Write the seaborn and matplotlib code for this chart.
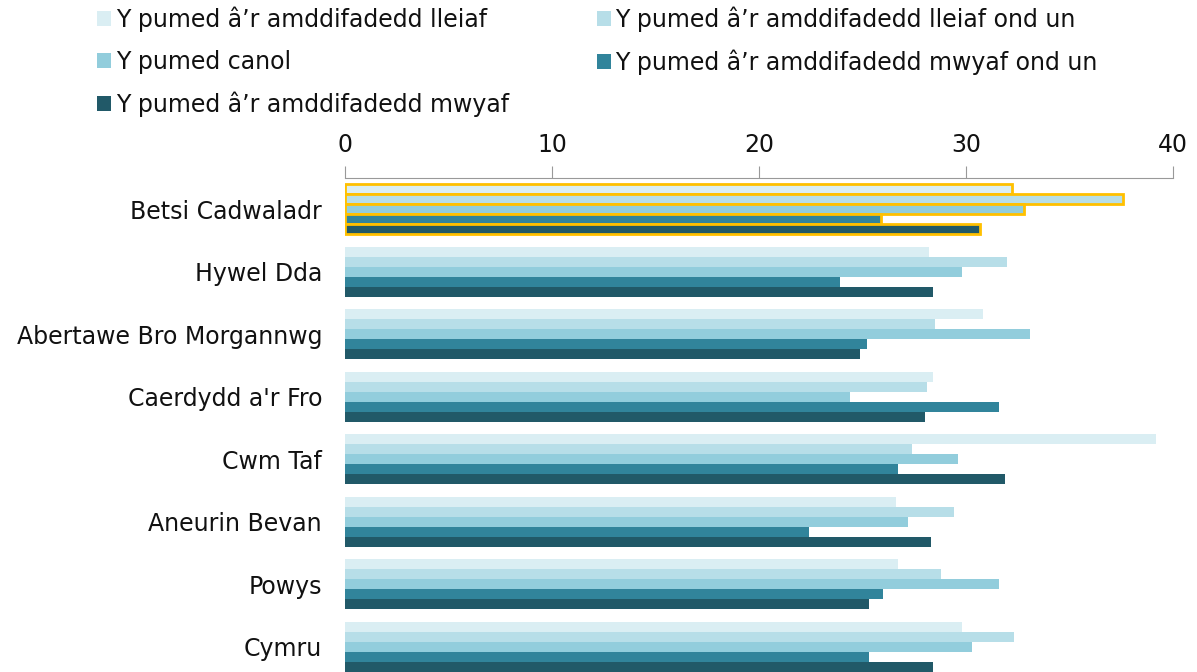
import matplotlib
matplotlib.use("Agg")
import matplotlib.pyplot as plt
import seaborn as sns
import pandas as pd
from matplotlib.patches import Patch

# Health boards (rows) and the five deprivation fifths (series)
boards = ["Betsi Cadwaladr", "Hywel Dda", "Abertawe Bro Morgannwg", "Caerdydd a'r Fro",
          "Cwm Taf", "Aneurin Bevan", "Powys", "Cymru"]
series = ["Y pumed â’r amddifadedd lleiaf", "Y pumed â’r amddifadedd lleiaf ond un",
          "Y pumed canol", "Y pumed â’r amddifadedd mwyaf ond un",
          "Y pumed â’r amddifadedd mwyaf"]
lleiaf = [32.2, 28.2, 30.8, 28.4, 39.2, 26.6, 26.7, 29.8]
lleiaf_ond_un = [37.6, 32.0, 28.5, 28.1, 27.4, 29.4, 28.8, 32.3]
canol = [32.8, 29.8, 33.1, 24.4, 29.6, 27.2, 31.6, 30.3]
mwyaf_ond_un = [25.9, 23.9, 25.2, 31.6, 26.7, 22.4, 26.0, 25.3]
mwyaf = [30.7, 28.4, 24.9, 28.0, 31.9, 28.3, 25.3, 28.4]
colours = ["#DAEEF3", "#B7DEE8", "#92CDDC", "#31849B", "#215968"]
xticks = [0, 10, 20, 30, 40]

values = [lleiaf, lleiaf_ond_un, canol, mwyaf_ond_un, mwyaf]
rows = []
for s, vals in zip(series, values):
    for b, v in zip(boards, vals):
        rows.append({"board": b, "series": s, "value": v})
df = pd.DataFrame(rows)

sns.set_style("white")
plt.rcParams["font.family"] = ["DejaVu Sans"]
txt = "#111111"

fig = plt.figure(figsize=(11.97, 6.72), dpi=100)
ax = fig.add_axes([345 / 1197, 0.0, (1173 - 345) / 1197, 1 - 178 / 672])

sns.barplot(data=df, y="board", x="value", hue="series", order=boards,
            hue_order=series, palette=colours, orient="h", width=0.8,
            saturation=1, linewidth=0, ax=ax, legend=False)

# highlight Betsi Cadwaladr bars
for cont in ax.containers:
    bar = cont[0]
    bar.set_edgecolor("#FFC000")
    bar.set_linewidth(2)

ax.set_xlim(0, 40)
ax.set_ylim(7.4, -0.5)
ax.set_xticks(xticks)
ax.xaxis.tick_top()
ax.tick_params(axis="x", which="both", top=True, length=9, color="#999999",
               labelsize=17, labelcolor=txt, pad=6)
ax.tick_params(axis="y", length=0, labelsize=17, labelcolor=txt, pad=16.5)
ax.set_xlabel("")
ax.set_ylabel("")
for side in ["left", "right", "bottom"]:
    ax.spines[side].set_visible(False)
ax.spines["top"].set_color("#999999")

# legend: fill column-wise so it reads row-wise like the original
handles = [Patch(facecolor=c, edgecolor="none") for c in colours]
order = [0, 2, 4, 1, 3]
leg = fig.legend([handles[i] for i in order], [series[i] for i in order],
                 ncol=2, loc="upper left", bbox_to_anchor=(0.0635, 1.022),
                 frameon=False, fontsize=17, handlelength=0.6, handleheight=0.6,
                 handletextpad=0.2, labelspacing=0.75, columnspacing=3.7)
for t in leg.get_texts():
    t.set_color(txt)

fig.savefig("out.png", dpi=100)
